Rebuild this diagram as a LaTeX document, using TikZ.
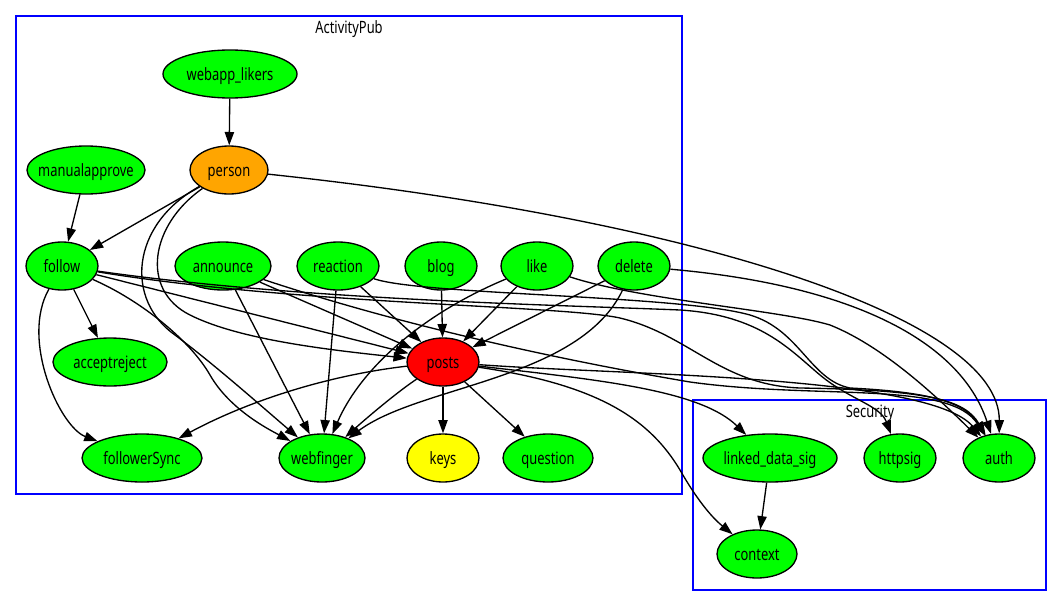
\documentclass[tikz,border=0pt]{standalone}
\usepackage{fontspec}
\setmainfont{Noto Sans}
\newfontfamily\gvfont[FakeStretch=0.76]{Noto Sans}
\usetikzlibrary{shapes.geometric,arrows.meta}
\definecolor{gvgreen}{HTML}{00FF00}
\definecolor{gvred}{HTML}{FF0000}
\definecolor{gvorange}{HTML}{FFA500}
\definecolor{gvyellow}{HTML}{FFFF00}
\definecolor{gvblue}{HTML}{0000FF}
\newcommand\tx[1]{\makebox[0pt]{#1}}
\begin{document}
\begin{tikzpicture}[x=0.75pt,y=-0.75pt,
  nd/.style={ellipse, draw=black, line width=1pt, inner sep=0pt, minimum height=36pt, fill=gvgreen, text height=9pt, text depth=0pt, font=\gvfont\fontsize{12.75}{14}\selectfont},
  e/.style={draw=black, line width=1pt, -{Triangle[length=10pt,width=7pt]}},
  clu/.style={draw=gvblue, line width=1pt},
  clulabel/.style={font=\gvfont\fontsize{12.75}{14}\selectfont, inner sep=0pt, text height=9pt, text depth=0pt}]
\useasboundingbox (0,0) rectangle (1063,607);
% clusters
\draw[clu] (16,16) rectangle (682,494);
\node[clulabel] (apl) at (349,27) {ActivityPub};
\draw[clu] (693,400) rectangle (1046,590);
\node[clulabel] (secl) at (870,411) {Security};
% nodes
\node[nd, minimum width=100.5pt] (webapp_likers) at (230,74) {\tx{webapp\_likers}};
\node[nd, minimum width=88.5pt] (manualapprove) at (86,170) {\tx{manualapprove}};
\node[nd, minimum width=58.5pt, fill=gvorange] (person) at (229,170) {\tx{person}};
\node[nd, minimum width=54pt] (follow) at (62,266) {\tx{follow}};
\node[nd, minimum width=72pt] (announce) at (223,266) {\tx{announce}};
\node[nd, minimum width=61.5pt] (reaction) at (338,266) {\tx{reaction}};
\node[nd, minimum width=54pt] (blog) at (441,266) {\tx{blog}};
\node[nd, minimum width=54pt] (like) at (537,266) {\tx{like}};
\node[nd, minimum width=54pt] (delete) at (634,266) {\tx{delete}};
\node[nd, minimum width=85.5pt] (acceptreject) at (110,362) {\tx{acceptreject}};
\node[nd, minimum width=54pt, fill=gvred] (posts) at (443,362) {\tx{posts}};
\node[nd, minimum width=90pt] (followerSync) at (142,458) {\tx{followerSync}};
\node[nd, minimum width=64.5pt] (webfinger) at (322,458) {\tx{webfinger}};
\node[nd, minimum width=54pt, fill=gvyellow] (keys) at (443,458) {\tx{keys}};
\node[nd, minimum width=67.5pt] (question) at (548,458) {\tx{question}};
\node[nd, minimum width=100.5pt] (linked_data_sig) at (770,458) {\tx{linked\_data\_sig}};
\node[nd, minimum width=54pt] (httpsig) at (900,458) {\tx{httpsig}};
\node[nd, minimum width=54pt] (auth) at (999,458) {\tx{auth}};
\node[nd, minimum width=60pt] (context) at (757,554) {\tx{context}};
% edges
\draw[e] (webapp_likers) -- (person);
\draw[e] (manualapprove) -- (follow);
\draw[e] (person) -- (follow);
\draw[e] (person) .. controls (700,220) and (1000,320) .. (auth);
\draw[e] (person) .. controls (150,225) and (140,290) .. (190,315) .. controls (240,340) and (330,350) .. (posts);
\draw[e] (person) .. controls (130,225) and (125,300) .. (175,335) .. controls (215,365) and (260,405) .. (webfinger);
\draw[e] (follow) -- (acceptreject);
\draw[e] (follow) .. controls (20,340) and (60,427) .. (followerSync);
\draw[e] (follow) .. controls (140,300) and (190,340) .. (210,375) .. controls (230,410) and (270,430) .. (webfinger);
\draw[e] (follow) -- (posts);
\draw[e] (follow) .. controls (300,305) and (560,305) .. (620,318) .. controls (690,335) and (720,385) .. (800,388) .. controls (930,390) and (965,400) .. (auth);
\draw[e] (follow) .. controls (300,300) and (560,305) .. (680,310) .. controls (760,315) and (790,350) .. (820,375) .. controls (850,400) and (880,405) .. (httpsig);
\draw[e] (announce) -- (posts);
\draw[e] (announce) -- (webfinger);
\draw[e] (announce) .. controls (400,325) and (560,360) .. (690,382) .. controls (820,400) and (950,380) .. (auth);
\draw[e] (reaction) -- (posts);
\draw[e] (reaction) -- (webfinger);
\draw[e] (reaction) .. controls (420,295) and (680,295) .. (750,315) .. controls (800,330) and (810,380) .. (850,388) .. controls (930,392) and (965,402) .. (auth);
\draw[e] (blog) -- (posts);
\draw[e] (like) -- (posts);
\draw[e] (like) .. controls (420,315) and (360,370) .. (webfinger);
\draw[e] (like) .. controls (640,300) and (780,310) .. (830,325) .. controls (880,345) and (930,390) .. (auth);
\draw[e] (delete) -- (posts);
\draw[e] (delete) .. controls (580,380) and (420,385) .. (webfinger);
\draw[e] (delete) .. controls (850,285) and (960,340) .. (auth);
\draw[e] (posts) -- (keys);
\draw[e] (posts) -- (question);
\draw[e] (posts) .. controls (400,390) and (370,415) .. (webfinger);
\draw[e] (posts) .. controls (330,375) and (250,400) .. (followerSync);
\draw[e] (posts) .. controls (620,375) and (930,375) .. (auth);
\draw[e] (posts) .. controls (600,380) and (700,390) .. (linked_data_sig);
\draw[e] (posts) .. controls (600,385) and (650,420) .. (680,470) .. controls (700,505) and (715,520) .. (context);
\draw[e] (linked_data_sig) -- (context);
\end{tikzpicture}
\end{document}
